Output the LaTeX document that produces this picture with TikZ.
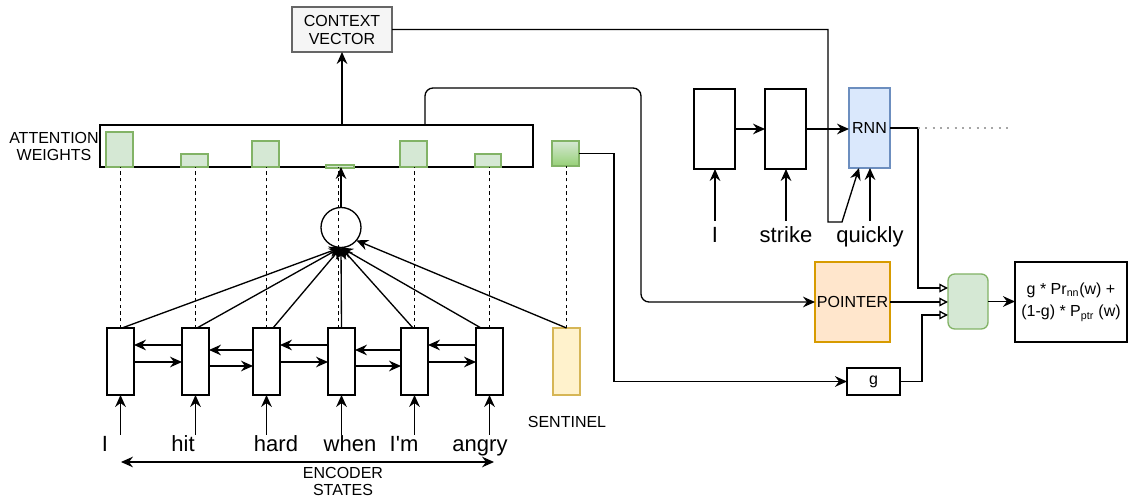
\documentclass[tikz,border=0pt]{standalone}
\usepackage{fontspec}
\setmainfont{Liberation Sans}
\usetikzlibrary{arrows.meta,calc}
\definecolor{gfill}{HTML}{D5E8D4}
\definecolor{gline}{HTML}{82B366}
\definecolor{gdark}{HTML}{97D077}
\definecolor{bfill}{HTML}{DAE8FC}
\definecolor{bline}{HTML}{6C8EBF}
\definecolor{ofill}{HTML}{FFE6CC}
\definecolor{oline}{HTML}{D79B00}
\definecolor{yfill}{HTML}{FFF2CC}
\definecolor{yline}{HTML}{D6B656}
\definecolor{cfill}{HTML}{F5F5F5}
\definecolor{cline}{HTML}{666666}
\tikzset{
  sz/.style 2 args={minimum width=#1*0.75pt, minimum height=#2*0.75pt},
  lbl/.style={font=\fontsize{12}{12.75}\selectfont, align=center},
  word/.style={font=\fontsize{16.5}{18}\selectfont, anchor=base, text height=12pt, text depth=4pt},
  cell/.style={draw, line width=1pt, fill=white},
  wbar/.style={draw=gline, fill=gfill, line width=1pt, anchor=south},
  wire/.style={line width=1pt},
  arr/.style={wire, -{Stealth[length=9pt,width=8pt,inset=3pt]}},
  dblarr/.style={wire, {Stealth[length=9pt,width=8pt,inset=3pt]}-{Stealth[length=9pt,width=8pt,inset=3pt]}},
  oarr/.style={wire, -{Triangle[open,length=6.5pt,width=6.5pt,fill=white]}},
  guide/.style={line width=0.8pt, dash pattern=on 2.5pt off 2.5pt}
}
\begin{document}
\begin{tikzpicture}[x=0.75pt,y=-0.75pt, every node/.style={inner sep=0pt, outer sep=0pt}]
\useasboundingbox (0,0) rectangle (1128,498);

% context vector
\node[sz={100}{45}, draw=cline, fill=cfill, line width=1pt,
      lbl, font=\fontsize{12}{13.5}\selectfont] (ctx) at (342,29.5) {CONTEXT\\VECTOR};

% attention weights strip
\node[sz={433}{42}, cell] (att) at (316.5,146) {};
\node[lbl] (attl) at (54,146) {ATTENTION\\WEIGHTS};
\node[sz={27}{35}, wbar] (w1) at (119.5,167) {};
\node[sz={27}{13}, wbar] (w2) at (194.5,167) {};
\node[sz={27}{26}, wbar] (w3) at (265.5,167) {};
\node[sz={28}{3},  wbar] (w4) at (340,168) {};
\node[sz={27}{26}, wbar] (w5) at (413.5,167) {};
\node[sz={26}{13}, wbar] (w6) at (488,167) {};
\node[sz={27}{25}, draw=gline, top color=gfill, bottom color=gdark, line width=1pt] (sw) at (565.5,153.5) {};

% encoder cells and sentinel
\foreach \i/\x in {1/120.5,2/195.5,3/266.5,4/341.5,5/414.5,6/489.5}
  \node[sz={27}{67}, cell] (e\i) at (\x,361.5) {};
\node[sz={27}{67}, draw=yline, fill=yfill, line width=1pt] (sen) at (566.5,361.5) {};
\node[lbl] (senl) at (567,422) {SENTINEL};

% scoring circle
\node[circle, draw, line width=1pt, minimum size=30pt] (circ) at (341,227.5) {};

% dashed guides from weights to states
\foreach \i in {1,2,3,5,6}
  \draw[guide] (e\i.north) -- (e\i.north |- att.south);
\draw[guide] ($(e4.north)+(-3,0)$) -- ($(e4.north |- att.south)+(-3,0)$);
\draw[guide] (sen.north) -- (sen.north |- sw.south);

% encoder words
\node[word] (x1) at (105,452) {I};
\node[word] (x2) at (183,452) {hit};
\node[word] (x3) at (276,452) {hard};
\node[word] (x4) at (350,452) {when};
\node[word] (x5) at (404,452) {I\textquotesingle m};
\node[word] (x6) at (480,452) {angry};
\foreach \i in {1,...,6}
  \draw[arr] ([yshift=0.75pt]e\i.south |- x\i.north) -- (e\i.south);

% bidirectional links
\draw[arr] (e1.east |- 0,362) -- (e2.west |- 0,362);
\draw[arr] (e2.east |- 0,366) -- (e3.west |- 0,366);
\draw[arr] (e3.east |- 0,362) -- (e4.west |- 0,362);
\draw[arr] (e4.east |- 0,366) -- (e5.west |- 0,366);
\draw[arr] (e5.east |- 0,362) -- (e6.west |- 0,362);
\draw[arr] (e2.west |- 0,345) -- (e1.east |- 0,345);
\draw[arr] (e3.west |- 0,350) -- (e2.east |- 0,350);
\draw[arr] (e4.west |- 0,345) -- (e3.east |- 0,345);
\draw[arr] (e5.west |- 0,350) -- (e4.east |- 0,350);
\draw[arr] (e6.west |- 0,345) -- (e5.east |- 0,345);

% encoder states span
\coordinate (esL) at (121,462);
\coordinate (esR) at (494,462);
\draw[dblarr] (esL) -- (esR);
\node[lbl] (esl) at (343,481) {ENCODER\\STATES};

% states into the scoring circle
\draw[arr] ($(e1.north)+(1.5,0)$) -- (circ.south);
\draw[arr] ($(e2.north)+(1.5,0)$) -- (circ.south);
\draw[arr] ($(e3.north)+(6.5,0)$) -- (circ.south);
\draw[arr] (e4.north) -- (circ.south);
\draw[arr] ($(e5.north)+(-1.5,0)$) -- (circ.south);
\draw[arr] ($(e6.north)+(-8.5,0)$) -- (circ.south);
\draw[arr] (sen.north) -- (circ.-40);
\draw[arr] (circ.north) -- (circ.north |- att.south);
\draw[arr] (att.north -| ctx.south) -- (ctx.south);

% decoder
\node[sz={41}{80}, cell] (d1) at (714.5,129) {};
\node[sz={41}{80}, cell] (d2) at (785.5,129) {};
\node[sz={41}{80}, draw=bline, fill=bfill, line width=1pt, lbl] (rnn) at (869.5,128) {RNN};
\node[word] (y1) at (715,243) {I};
\node[word] (y2) at (786,243) {strike};
\node[word] (y3) at (870,243) {quickly};
\draw[arr] ([yshift=4.5pt]y1.north) -- (y1.north |- d1.south);
\draw[arr] ([yshift=4.5pt]y2.north) -- (y2.north |- d2.south);
\draw[arr] ([yshift=4.5pt]y3.north) -- (y3.north |- rnn.south);
\draw[arr] (d1.east) -- (d2.west);
\draw[arr] (d2.east) -- (d2.east -| rnn.west);
\draw[arr] (ctx.east) -- ++(436,0) -- ++(0,192.5) -- ++(14,0) -- ($(rnn.south west)+(10,0)$);

% pointer, gate and mixture
\node[sz={75}{80}, draw=oline, fill=ofill, line width=1pt, lbl] (ptr) at (852.5,302) {POINTER};
\node[sz={53}{27}, cell, lbl] (g) at (873.5,381.5) {g};
\node[sz={40}{55}, draw=gline, fill=gfill, rounded corners=5pt, line width=1pt] (mix) at (968,301.5) {};
\node[sz={112}{80}, cell, lbl, font=\fontsize{12}{17}\selectfont] (out) at (1071,302)
  {g * Pr\textsubscript{nn}(w) +\\(1-g) * P\textsubscript{ptr} (w)};

\draw[arr, rounded corners=6pt] ($(att.north west)+(325,0)$) |- (641,88) |- (ptr.west);
\draw[arr] (sw.east) -- ++(35,0) |- (g.west);

\coordinate (turn) at ($(rnn.east)+(28,0)$);
\draw[oarr] (rnn.east) -- (turn) |- ($(mix.west)+(0,-13.5)$);
\draw[oarr] (ptr.east) -- (ptr.east -| mix.west);
\draw[oarr] (g.east) -- ++(22,0) |- ($(mix.west)+(0,13.5)$);
\draw[arr] (mix.east) -- (mix.east -| out.west);
\draw[gray!70, line width=0.8pt, dash pattern=on 1.5pt off 4pt] (turn) -- ++(92,0);
\end{tikzpicture}
\end{document}
